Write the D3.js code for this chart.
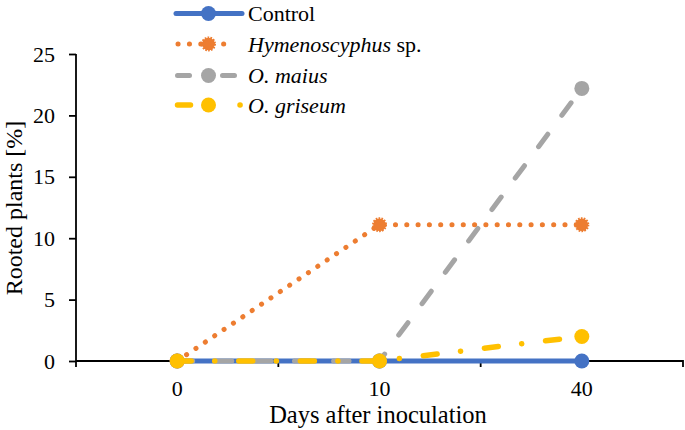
<!DOCTYPE html>
<html><head><meta charset="utf-8">
<script src="https://cdn.jsdelivr.net/npm/d3@7"></script>
<style>body{margin:0;background:#fff}svg{display:block}</style>
</head><body><svg id="c" width="685" height="430"></svg>
<script>
const days = ["0", "10", "40"];
const control = [0, 0, 0];
const hymenoscyphus = [0, 11.1, 11.1];
const oMaius = [0, 0, 22.2];
const oGriseum = [0, 0, 2.0];
const yTicks = [0, 5, 10, 15, 20, 25];
const seriesNames = ["Control", "Hymenoscyphus", "O. maius", "O. griseum"];

const FONT = "Liberation Serif";
const series = [
  {name: seriesNames[0], italic: false, values: control, color: "#4472C4", dash: null, width: 5,
   leg: {x1: 176, x2: 242, dash: null}},
  {name: seriesNames[1], suffix: " sp.", italic: true, values: hymenoscyphus, color: "#ED7D31", dash: "0.1 11.2", width: 5,
   leg: {x1: 178, x2: 235, dash: "0.1 11.3"}, spiky: true},
  {name: seriesNames[2], italic: true, values: oMaius, color: "#A5A5A5", dash: "15.5 23.6", width: 5,
   leg: {x1: 177.5, x2: 234.5, dash: "12 33"}},
  {name: seriesNames[3], italic: true, values: oGriseum, color: "#FFC000", dash: "14 23.5 0.1 24", width: 5.5,
   leg: {x1: 177.5, x2: 240.2, dash: "13 49.5 0.1 10"}}
];

const svg = d3.select("#c");
const x0 = 76, x1 = 683, yTop = 54, yBot = 361;
const x = d3.scaleBand().domain(days).range([x0, x1]);
const y = d3.scaleLinear().domain([0, 25]).range([yBot, yTop]);

// y axis
const ya = svg.append("g").attr("transform", `translate(${x0},0)`)
  .call(d3.axisLeft(y).tickValues(yTicks).tickSize(7).tickPadding(14));
ya.attr("font-family", FONT);
ya.selectAll("path,line").attr("stroke", "#000").attr("stroke-width", 1.8);
ya.select(".domain").attr("d", `M0,${yTop}V${yBot + 6}`);
ya.selectAll("text").attr("font-size", 22).style("font-family", FONT).attr("fill", "#000");

// x axis
const xa = svg.append("g").attr("transform", `translate(0,${yBot})`)
  .call(d3.axisBottom(x).tickSize(0).tickPadding(0));
xa.attr("font-family", FONT);
xa.select(".domain").attr("d", `M${x0},0H${x1}V6`).attr("stroke", "#000").attr("stroke-width", 1.8).attr("fill", "none");
xa.selectAll("text").attr("font-size", 22).style("font-family", FONT).attr("fill", "#000")
  .attr("y", 35).attr("dy", null);
xa.selectAll(".sep").data(days.slice(1)).enter().append("line")
  .attr("x1", d => x(d)).attr("x2", d => x(d)).attr("y1", 0).attr("y2", 6)
  .attr("stroke", "#000").attr("stroke-width", 1.8);

const cx = d => x(d) + x.bandwidth() / 2;
const line = d3.line().x((v, i) => cx(days[i])).y(v => y(v));

function marker(sel, s) {
  if (s.spiky) {
    sel.attr("r", 6.3).attr("fill", s.color).attr("stroke", s.color)
      .attr("stroke-width", 2.4).attr("stroke-dasharray", "1.6 1.2");
  } else {
    sel.attr("r", 7.5).attr("fill", s.color);
  }
}

series.forEach(s => {
  const p = svg.append("path").datum(s.values).attr("d", line)
    .attr("fill", "none").attr("stroke", s.color).attr("stroke-width", s.width)
    .attr("stroke-linecap", "round").attr("stroke-linejoin", "round");
  if (s.dash) p.attr("stroke-dasharray", s.dash);
  svg.selectAll(null).data(s.values).enter().append("circle")
    .attr("cx", (v, i) => cx(days[i])).attr("cy", v => y(v)).call(marker, s);
});

// legend
const legY = [13.5, 44, 75.5, 105];
series.forEach((s, i) => {
  const g = svg.append("g").attr("transform", `translate(0,${legY[i]})`);
  const l = g.append("line").attr("x1", s.leg.x1).attr("x2", s.leg.x2).attr("y1", 0).attr("y2", 0)
    .attr("stroke", s.color).attr("stroke-width", s.width).attr("stroke-linecap", "round");
  if (s.leg.dash) l.attr("stroke-dasharray", s.leg.dash);
  g.append("circle").attr("cx", 208.5).attr("cy", 0).call(marker, s);
  const t = g.append("text").attr("x", 248).attr("y", 7.5).attr("font-size", 22)
    .style("font-family", FONT).attr("fill", "#000");
  t.append("tspan").attr("font-style", s.italic ? "italic" : "normal").text(s.name);
  if (s.suffix) t.append("tspan").attr("font-style", "normal").text(s.suffix);
});

// axis titles
svg.append("text").attr("x", 378).attr("y", 423).attr("text-anchor", "middle")
  .attr("font-size", 24.5).style("font-family", FONT).attr("fill", "#000").text("Days after inoculation");
svg.append("text").attr("transform", "translate(21.5,208) rotate(-90)").attr("text-anchor", "middle")
  .attr("font-size", 24).style("font-family", FONT).attr("fill", "#000").text("Rooted plants [%]");
</script></body></html>
